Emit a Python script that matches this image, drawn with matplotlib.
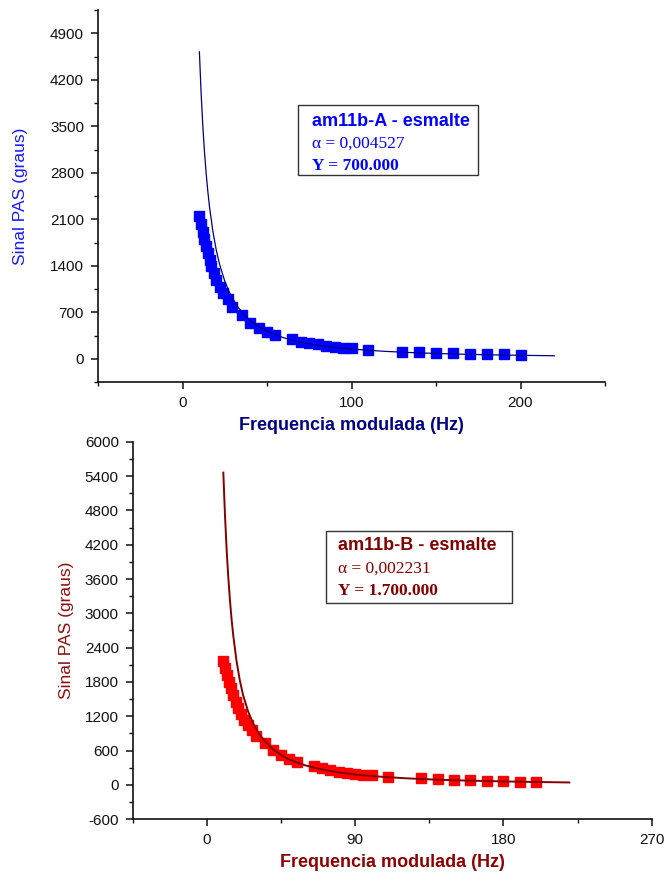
import numpy as np
import matplotlib
matplotlib.use("Agg")
import matplotlib.pyplot as plt
from matplotlib.patches import Rectangle
from matplotlib.ticker import MultipleLocator

plt.rcParams['font.family'] = ['Liberation Sans', 'DejaVu Sans']
plt.rcParams['axes.unicode_minus'] = False

# --- am11b-A (top) measured points
freq_a = [10, 11, 12, 13, 14, 15, 16, 17, 18.5, 20, 22, 24, 27, 29.5, 35, 40, 45, 50, 55,
          65, 70, 75, 80, 85, 90, 95, 100, 110, 130, 140, 150, 160, 170, 180, 190, 200]
sinal_a = [2150, 2030, 1910, 1800, 1690, 1590, 1490, 1390, 1290, 1185, 1075, 985, 895, 785,
           658, 545, 470, 402, 357, 292, 256, 231, 216, 196, 181, 166, 156, 131, 105, 96,
           90, 81, 75, 71, 66, 60]

# fitted curve A
fit_fa = [10, 11, 12, 13, 14, 15, 16, 18, 20, 22, 25, 28, 32, 36, 40, 45, 50, 60, 70, 80,
          90, 100, 120, 140, 160, 180, 200, 220]
fit_ya = [4620, 4005, 3515, 3117, 2789, 2515, 2283, 1913, 1633, 1416, 1169, 986, 807, 676,
          578, 484, 413, 314, 249, 204, 171, 146, 111, 88, 72, 60, 52, 45]

# --- am11b-B (bottom) measured points
freq_b = [10, 11, 12, 13.4, 14.6, 16, 17.4, 19, 20.7, 22.7, 24.7, 27.2, 29.8, 35, 40, 45, 50,
          55, 65, 70, 75, 80, 85, 90, 95, 100, 110, 130, 140, 150, 160, 170, 180, 190, 200]
sinal_b = [2173, 2040, 1923, 1806, 1690, 1573, 1456, 1340, 1241, 1136, 1049, 961, 862, 729,
           612, 524, 460, 405, 332, 291, 262, 233, 210, 198, 181, 169, 146, 117, 105, 93,
           82, 70, 64, 58, 52]

# fitted curve B
fit_fb = [10, 11, 12, 13, 14, 15, 16, 18, 20, 22, 25, 28, 32, 36, 40, 45, 50, 60, 70, 80,
          90, 100, 120, 140, 160, 180, 200, 220]
fit_yb = [5460, 4720, 4120, 3640, 3240, 2900, 2620, 2170, 1830, 1570, 1290, 1080, 880, 740,
          630, 525, 445, 340, 270, 220, 183, 155, 118, 92, 75, 62, 52, 44]

W, H = 667, 874
fig = plt.figure(figsize=(W / 100, H / 100), dpi=100)


def style_axes(ax):
    for s in ['top', 'right']:
        ax.spines[s].set_visible(False)
    for s in ['left', 'bottom']:
        ax.spines[s].set_linewidth(1.2)
        ax.spines[s].set_color('#111111')
    ax.tick_params(which='major', direction='out', length=5, width=1.1, labelsize=11,
                   colors='#111111')
    ax.tick_params(which='minor', direction='out', length=3, width=1.0, colors='#111111')
    ax.tick_params(axis='y', pad=5)
    ax.tick_params(axis='x', pad=5)


# ---------- top panel
ax1 = fig.add_axes([98 / W, 1 - 382 / H, (605 - 98) / W, (382 - 10) / H])
ax1.plot(fit_fa, fit_ya, color='#000080', lw=0.9, zorder=3)
ax1.plot(freq_a, sinal_a, 's', color='#0000FF', ms=6.5, mec='#0000FF', zorder=2)
ax1.set_xlim(-50, 250)
ax1.set_ylim(-350, 5250)
ax1.set_xticks([0, 100, 200])
ax1.xaxis.set_minor_locator(MultipleLocator(50))
ax1.set_yticks(np.arange(0, 5000, 700))
ax1.yaxis.set_minor_locator(MultipleLocator(350))
style_axes(ax1)
ax1.set_xlabel('Frequencia modulada (Hz)', fontsize=13, fontweight='bold', color='#000080',
               labelpad=5)
ax1.set_ylabel('Sinal PAS (graus)', fontsize=12.5, color='#1a1aff', labelpad=16)

# ---------- bottom panel
ax2 = fig.add_axes([132.7 / W, 1 - 819.3 / H, (651.7 - 132.7) / W, (819.3 - 441.7) / H])
ax2.plot(fit_fb, fit_yb, color='#800000', lw=1.4, zorder=3)
ax2.plot(freq_b, sinal_b, 's', color='#FF0000', ms=6.5, mec='#FF0000', zorder=2)
ax2.set_xlim(-45, 270)
ax2.set_ylim(-600, 6000)
ax2.set_xticks([0, 90, 180, 270])
ax2.xaxis.set_minor_locator(MultipleLocator(45))
ax2.set_yticks(np.arange(-600, 6001, 600))
ax2.yaxis.set_minor_locator(MultipleLocator(300))
style_axes(ax2)
ax2.set_xlabel('Frequencia modulada (Hz)', fontsize=13, fontweight='bold', color='#8B0000',
               labelpad=5)
ax2.set_ylabel('Sinal PAS (graus)', fontsize=12.5, color='#8B1010', labelpad=8)


# ---------- annotation boxes
def info_box(x0, y0, x1, y1, tx, lines_y, name, alpha, yval, color):
    fig.patches.append(Rectangle((x0 / W, 1 - y1 / H), (x1 - x0) / W, (y1 - y0) / H,
                                 transform=fig.transFigure, fill=False, ec='#333333',
                                 lw=1.0))
    fig.text(tx / W, 1 - lines_y[0] / H, name, fontsize=13, fontweight='bold',
             color=color, va='center', ha='left')
    fig.text(tx / W, 1 - lines_y[1] / H, alpha, fontsize=12.5, color=color,
             family='Liberation Serif', va='center', ha='left')
    fig.text(tx / W, 1 - lines_y[2] / H, yval, fontsize=12.5, fontweight='bold',
             color=color, family='Liberation Serif', va='center', ha='left')


info_box(298, 105, 478, 175, 311.5, (122, 143.5, 165.5), 'am11b-A - esmalte',
         'α = 0,004527', 'Y = 700.000', '#0000FF')
info_box(326, 531, 512, 603, 337.5, (546, 569, 591), 'am11b-B - esmalte',
         'α = 0,002231', 'Y = 1.700.000', '#800000')

fig.savefig('out.png', dpi=100)
